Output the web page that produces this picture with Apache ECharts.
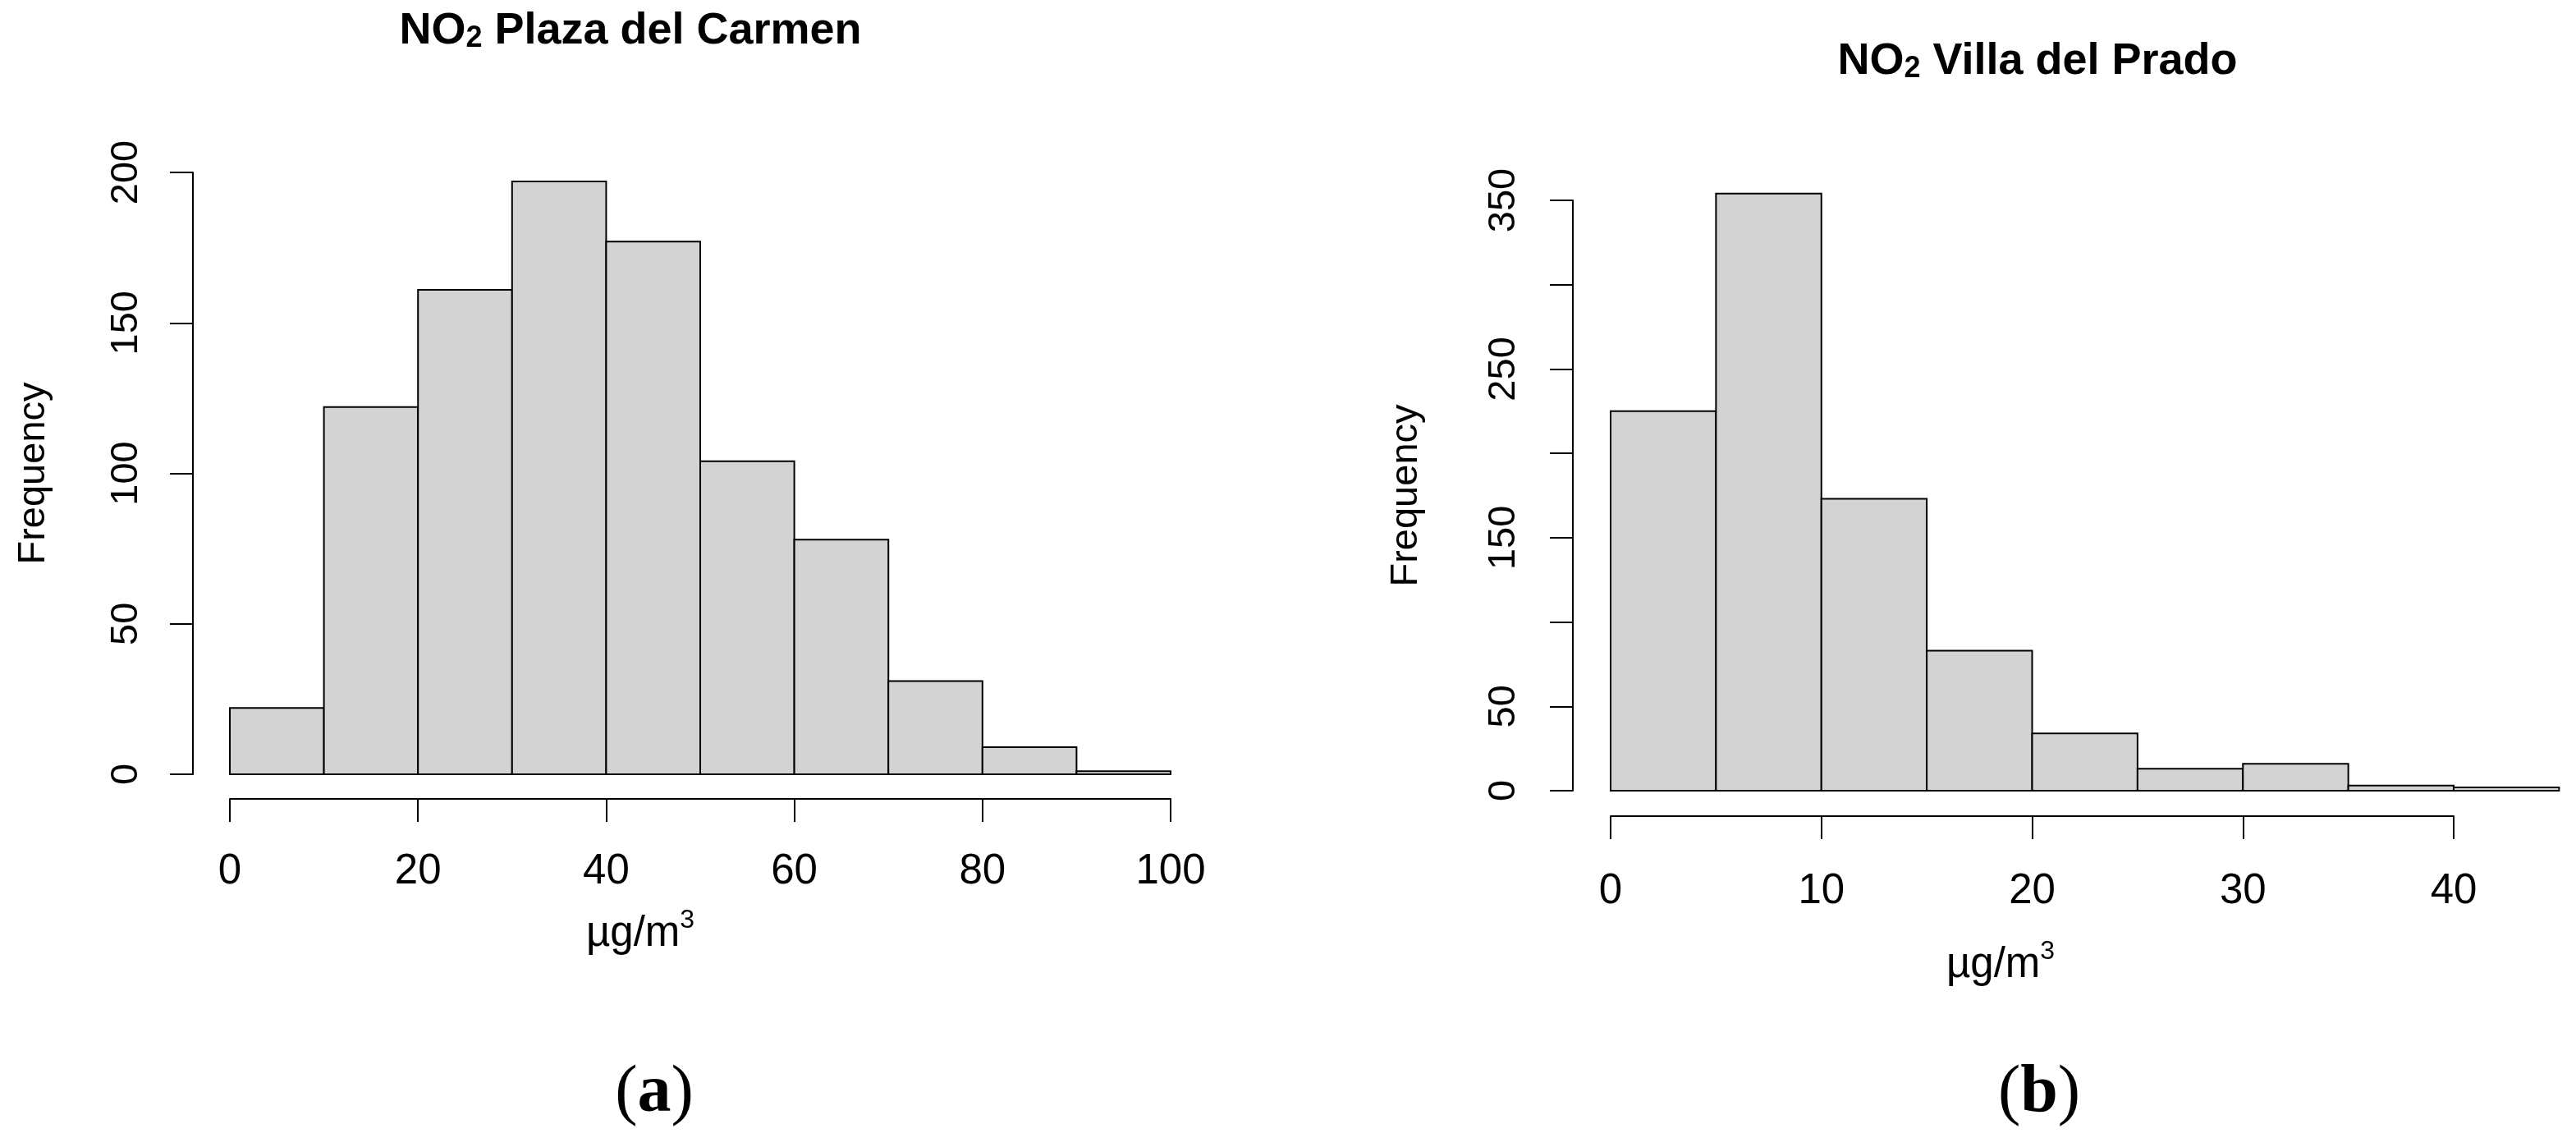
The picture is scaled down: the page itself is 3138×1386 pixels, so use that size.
<!DOCTYPE html>
<html>
<head>
<meta charset="utf-8">
<script src="https://cdn.jsdelivr.net/npm/echarts@6/dist/echarts.min.js"></script>
<style>
html,body{margin:0;padding:0;background:#ffffff;}
#chart{width:3138px;height:1386px;}
</style>
</head>
<body>
<div id="chart"></div>
<script>
// ---------- data ----------
const binEdgesA = [0, 10, 20, 30, 40, 50, 60, 70, 80, 90, 100];
const countsA   = [22, 122, 161, 197, 177, 104, 78, 31, 9, 1];
const binEdgesB = [0, 5, 10, 15, 20, 25, 30, 35, 40, 45];
const countsB   = [225, 354, 173, 83, 34, 13, 16, 3, 2];

const xTicksA = [0, 20, 40, 60, 80, 100];
const yTicksA = [0, 50, 100, 150, 200];
const yLabelsA = ['0', '50', '100', '150', '200'];
const xTicksB = [0, 10, 20, 30, 40];
const yTicksB = [0, 50, 100, 150, 200, 250, 300, 350];
const yLabelsB = ['0', '50', '', '150', '', '250', '', '350'];

const titleStationA = 'Plaza del Carmen';
const titleStationB = 'Villa del Prado';
const yAxisTitle = 'Frequency';
const panelA = 'a';
const panelB = 'b';

// ---------- helpers ----------
const SANS = 'Liberation Sans, Arial, Helvetica, sans-serif';
const SERIF = 'Liberation Serif, Times New Roman, serif';

function histData(edges, counts) {
  return counts.map((c, i) => [edges[i], edges[i + 1], c]);
}

function renderBin(params, api) {
  const p0 = api.coord([api.value(0), 0]);
  const p1 = api.coord([api.value(1), api.value(2)]);
  return {
    type: 'rect',
    shape: { x: p0[0], y: p1[1], width: p1[0] - p0[0], height: p0[1] - p1[1] },
    style: { fill: '#d3d3d3', stroke: '#000000', lineWidth: 2 }
  };
}

function xAxisOf(gridIndex, ticks, margin) {
  return {
    type: 'value', gridIndex: gridIndex,
    min: ticks[0], max: ticks[ticks.length - 1], interval: ticks[1] - ticks[0],
    offset: 30 + gridIndex,
    splitLine: { show: false },
    axisLine: { show: true, onZero: false, lineStyle: { color: '#000', width: 2 } },
    axisTick: { show: true, length: 28, lineStyle: { color: '#000', width: 2 } },
    axisLabel: { show: true, margin: margin, color: '#000', fontFamily: SANS, fontSize: 51,
                 showMinLabel: true, showMaxLabel: true }
  };
}

function yAxisOf(gridIndex, ticks, labels, margin, nameGap, offset) {
  return {
    type: 'value', gridIndex: gridIndex,
    min: ticks[0], max: ticks[ticks.length - 1], interval: ticks[1] - ticks[0],
    offset: offset,
    name: yAxisTitle, nameLocation: 'middle', nameRotate: 90, nameGap: nameGap,
    nameTextStyle: { color: '#000', fontFamily: SANS, fontSize: 47 },
    splitLine: { show: false },
    axisLine: { show: true, onZero: false, lineStyle: { color: '#000', width: 2 } },
    axisTick: { show: true, length: 28, lineStyle: { color: '#000', width: 2 } },
    axisLabel: {
      show: true, rotate: 90, margin: margin, color: '#000', fontFamily: SANS, fontSize: 47,
      showMinLabel: true, showMaxLabel: true,
      formatter: function (v) { const i = ticks.indexOf(v); return i >= 0 ? labels[i] : ''; }
    }
  };
}

function titleText(x, y, station) {
  return {
    type: 'text', x: x, y: y, silent: true,
    style: {
      text: '{b|NO}{s|2}{b| ' + station + '}',
      align: 'center', verticalAlign: 'middle',
      rich: {
        b: { fontFamily: SANS, fontWeight: 'bold', fontSize: 54, fill: '#000', verticalAlign: 'bottom', lineHeight: 60 },
        s: { fontFamily: SANS, fontWeight: 'bold', fontSize: 36, fill: '#000', verticalAlign: 'bottom', lineHeight: 60 }
      }
    }
  };
}

function unitText(x, y) {
  return {
    type: 'text', x: x, y: y, silent: true,
    style: {
      text: '{m|\u00B5g/m}{p|3}',
      align: 'center', verticalAlign: 'middle',
      rich: {
        m: { fontFamily: SANS, fontSize: 51, fill: '#000', verticalAlign: 'bottom', lineHeight: 58 },
        p: { fontFamily: SANS, fontSize: 32, fill: '#000', verticalAlign: 'top', lineHeight: 32 }
      }
    }
  };
}

function panelText(x, y, letter) {
  return {
    type: 'text', x: x, y: y, silent: true,
    style: {
      text: '{n|(}{l|' + letter + '}{n|)}',
      align: 'center', verticalAlign: 'middle',
      rich: {
        n: { fontFamily: SERIF, fontSize: 82, fill: '#000' },
        l: { fontFamily: SERIF, fontWeight: 'bold', fontSize: 82, fill: '#000' }
      }
    }
  };
}

const chart = echarts.init(document.getElementById('chart'), null, { renderer: 'canvas' });

const option = {
  backgroundColor: '#ffffff',
  animation: false,
  grid: [
    { left: 280, top: 210, width: 1146, height: 733 },
    { left: 1962, top: 244, width: 1027, height: 719 }
  ],
  xAxis: [
    xAxisOf(0, xTicksA, 63),
    xAxisOf(1, xTicksB, 66)
  ],
  yAxis: [
    yAxisOf(0, yTicksA, yLabelsA, 57, 170, 45),
    yAxisOf(1, yTicksB, yLabelsB, 60, 179, 46)
  ],
  series: [
    {
      type: 'custom', name: 'Plaza del Carmen', xAxisIndex: 0, yAxisIndex: 0,
      clip: false, renderItem: renderBin, data: histData(binEdgesA, countsA),
      encode: { x: [0, 1], y: 2 }
    },
    {
      type: 'custom', name: 'Villa del Prado', xAxisIndex: 1, yAxisIndex: 1,
      clip: false, renderItem: renderBin, data: histData(binEdgesB, countsB),
      encode: { x: [0, 1], y: 2 }
    }
  ],
  graphic: [
    titleText(768, 35, titleStationA),
    titleText(2482, 72, titleStationB),
    unitText(780, 1134),
    unitText(2437, 1172),
    panelText(797, 1332, panelA),
    panelText(2484, 1332, panelB)
  ]
};

chart.setOption(option);
</script>
</body>
</html>
